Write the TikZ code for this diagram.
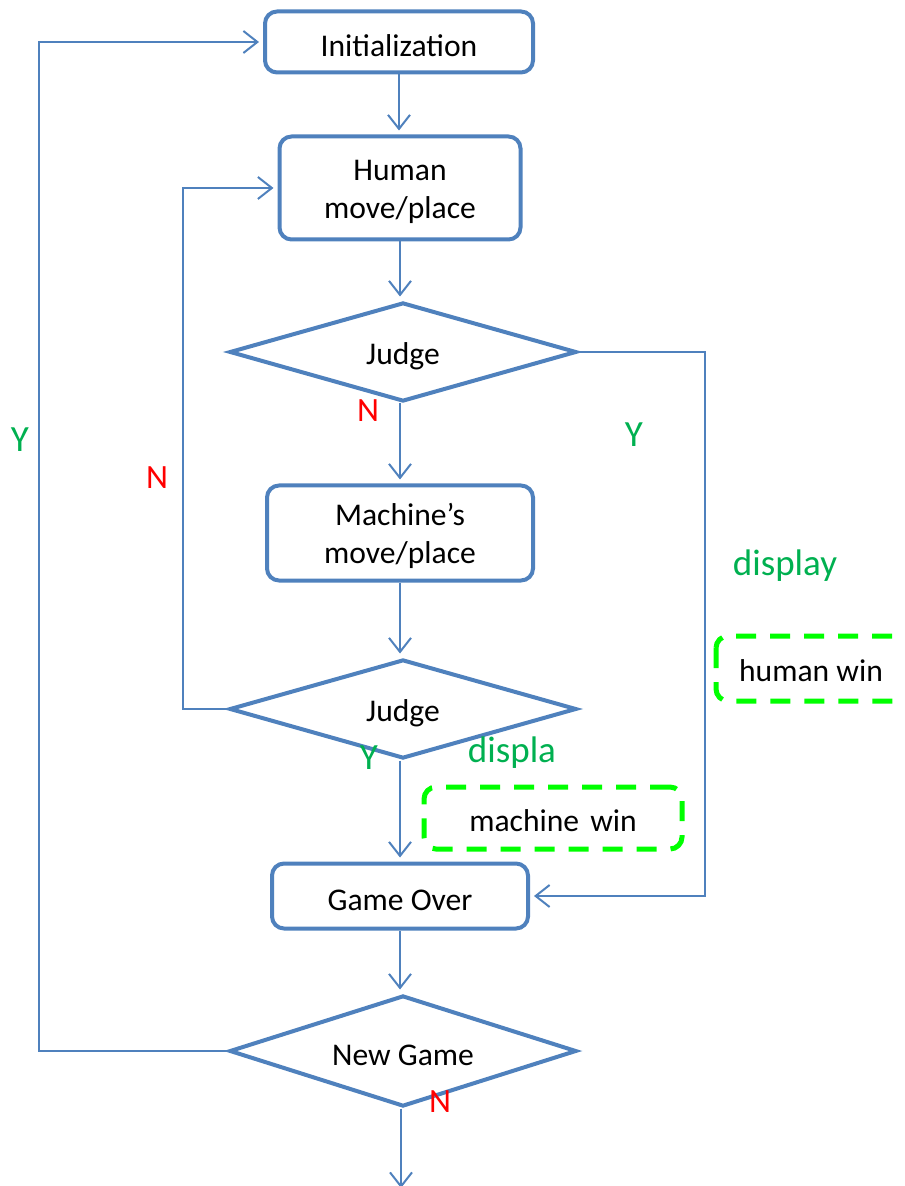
\documentclass[tikz,border=0pt]{standalone}
\usepackage{fontspec}
\setmainfont{Carlito}
\usetikzlibrary{shapes.geometric,arrows.meta}
\definecolor{fcblue}{RGB}{79,129,189}
\definecolor{lblgreen}{RGB}{0,176,80}
\definecolor{dashgreen}{RGB}{0,255,0}
\newcommand{\twolines}[2]{\begin{tabular}{@{}c@{}}\rule{0pt}{17pt}#1\\#2\end{tabular}}
\begin{document}
\begin{tikzpicture}[x=0.5pt,y=-0.5pt,
  txt/.style={font=\fontsize{15.8}{19}\selectfont},
  lower/.style={execute at begin node={\rule{0pt}{15pt}}},
  box/.style={txt,draw=fcblue,line width=2pt,rounded corners=6pt,fill=white,inner sep=0pt},
  dec/.style={txt,lower,draw=fcblue,line width=2pt,diamond,shape aspect=3.5,fill=white,inner sep=0pt,minimum width=173.5pt,minimum height=49.5pt},
  arr/.style={draw=fcblue,line width=1pt,-{Straight Barb[length=7pt,width=11pt]},shorten >=2pt},
  ylbl/.style={text=lblgreen,font=\fontsize{18.5}{22}\selectfont},
  nlbl/.style={text=red,font=\fontsize{17}{20}\selectfont},
  winbox/.style={txt,draw=dashgreen,line width=2.5pt,dash pattern=on 10pt off 7pt,rounded corners=6pt}
]
\clip (0,0) rectangle (904,1186);
\useasboundingbox (0,0) rectangle (904,1186);

% main column
\node[box,lower,minimum width=134pt,minimum height=30.5pt] (init) at (399,42) {Initialization};
\node[box,minimum width=120.5pt,minimum height=51.5pt] (human) at (400,188) {\twolines{Human}{move/place}};
\node[dec] (judge1) at (403,352) {Judge};
\node[box,minimum width=133pt,minimum height=47.5pt] (machine) at (400,533) {\twolines{Machine’s}{move/place}};
\node[dec] (judge2) at (403,709) {Judge};
\node[box,lower,minimum width=128pt,minimum height=32.5pt] (over) at (400,896) {Game Over};
\node[dec,minimum height=55.5pt] (newgame) at (403,1051) {New Game};

% helper coordinates
\coordinate (r1) at (705,352);
\coordinate (l2) at (183,709);
\coordinate (l3) at (39,1051);
\coordinate (end) at (401,1188);

% straight arrows
\draw[arr] (init.south -| 399,0) -- (human.north -| 399,0);
\draw[arr] (human) -- (judge1.north -| human);
\draw[arr] (judge1.south -| 400,0) -- (machine.north -| 400,0);
\draw[arr] (machine) -- (judge2.north -| machine);
\draw[arr] (judge2.south -| 400,0) -- (over.north -| 400,0);
\draw[arr] (over) -- (newgame.north -| over);
\draw[arr,shorten >=0pt] (newgame.south -| end) -- (end);

% loops
\draw[arr] (judge2.west) -- (l2) |- (human.west);
\draw[arr] (judge1.east) -- (r1) |- (over.east);
\draw[arr] (newgame.west) -- (l3) |- (init.west);

% labels
\node[nlbl] (n1) at (368,411) {N};
\node[nlbl] (n2) at (157,478) {N};
\node[nlbl] (n3) at (440,1102) {N};
\node[ylbl] (y1) at (634,435) {Y};
\node[ylbl] (y2) at (369,758) {Y};
\node[ylbl] (y3) at (20,440) {Y};
\node[ylbl] (d1) at (785,566) {display};
\node[ylbl] (d2) at (512,753) {displa};

% result boxes
\node[winbox,minimum width=129pt,minimum height=31pt] (mwin) at (553,818) {\rule{0pt}{14pt}machine\hspace{0.35em}win};
\draw[winbox] (716,636) rectangle (940,701);
\node[txt] (hwin) at (811,671) {human win};
\end{tikzpicture}
\end{document}
